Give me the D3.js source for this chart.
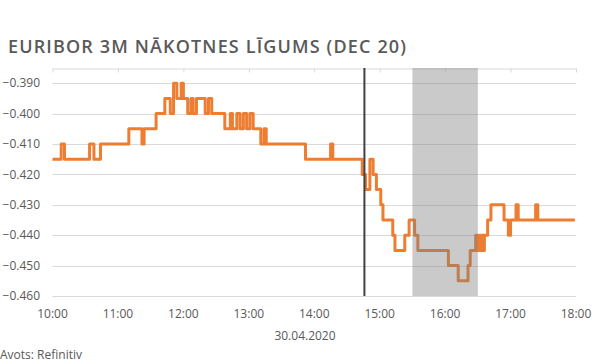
<!DOCTYPE html>
<html>
<head>
<meta charset="utf-8">
<script src="https://cdn.jsdelivr.net/npm/d3@7"></script>
<style>
  body { margin: 0; background: #fff; }
  svg { display: block; font-family: 'Open Sans', sans-serif; }
  .grid line { stroke: #d9d9d9; stroke-width: 1; }
  .tick-label { fill: #595959; font-size: 12px; }
</style>
</head>
<body>
<svg id="chart" width="600" height="363"></svg>
<script>
// futures price, step changes (time, value)
const times = ['10:00', '10:08', '10:11', '10:34', '10:38', '10:44', '11:10', '11:22', '11:24', '11:35',
  '11:43', '11:48', '11:51', '11:54', '11:58', '12:00', '12:04', '12:07', '12:09', '12:12',
  '12:20', '12:23', '12:26', '12:38', '12:43', '12:45', '12:49', '12:52', '12:55', '12:58',
  '13:01', '13:04', '13:11', '13:14', '13:16', '13:52', '14:15', '14:17', '14:44', '14:47',
  '14:51', '14:54', '14:57', '15:01', '15:03', '15:12', '15:14', '15:23', '15:27', '15:32',
  '15:35', '16:03', '16:12', '16:21', '16:23', '16:28', '16:29', '16:30', '16:31', '16:32',
  '16:33', '16:34', '16:35', '16:36', '16:39', '16:42', '16:54', '16:58', '17:00', '17:05',
  '17:07', '17:23', '17:25', '17:59']
const values = [-0.415, -0.410, -0.415, -0.410, -0.415, -0.410, -0.405, -0.410, -0.405, -0.400,
  -0.395, -0.400, -0.390, -0.395, -0.390, -0.395, -0.400, -0.395, -0.400, -0.395,
  -0.400, -0.395, -0.400, -0.405, -0.400, -0.405, -0.400, -0.405, -0.400, -0.405,
  -0.400, -0.405, -0.410, -0.405, -0.410, -0.415, -0.410, -0.415, -0.420, -0.425,
  -0.415, -0.420, -0.425, -0.430, -0.435, -0.440, -0.445, -0.440, -0.435, -0.440,
  -0.445, -0.450, -0.455, -0.450, -0.445, -0.440, -0.445, -0.440, -0.445, -0.440,
  -0.445, -0.440, -0.445, -0.440, -0.435, -0.430, -0.435, -0.440, -0.435, -0.430,
  -0.435, -0.430, -0.435, -0.435]
const yTicks = [-0.39, -0.40, -0.41, -0.42, -0.43, -0.44, -0.45, -0.46]
const xTicks = ['10:00', '11:00', '12:00', '13:00', '14:00', '15:00', '16:00', '17:00', '18:00']
const eventTime = '14:46'
const band = ['15:30', '16:30']

const title = 'EURIBOR 3M NĀKOTNES LĪGUMS (DEC 20)'
const dateLabel = '30.04.2020'
const source = 'Avots: Refinitiv'

const parse = d3.timeParse('%H:%M')
const data = times.map((t, i) => [parse(t), values[i]])

const svg = d3.select('#chart')
const x = d3.scaleTime().domain([parse('10:00'), parse('18:00')]).range([52.5, 576])
const y = d3.scaleLinear().domain([-0.46, -0.385]).range([296, 68])

svg.append('text')
  .attr('x', 8).attr('y', 53)
  .attr('fill', '#595959')
  .attr('font-size', 18).attr('font-weight', 600)
  .attr('textLength', 398).attr('lengthAdjust', 'spacing')
  .text(title)

// horizontal gridlines
svg.append('g').classed('grid', true)
  .selectAll('line').data(yTicks).join('line')
  .attr('x1', x.range()[0]).attr('x2', x.range()[1])
  .attr('y1', d => Math.round(y(d)) + 0.5).attr('y2', d => Math.round(y(d)) + 0.5)

// top frame line with hour ticks pointing down
const topAxis = d3.axisBottom(x)
  .tickValues(xTicks.map(parse))
  .tickSize(4).tickSizeOuter(0).tickFormat('')
const topG = svg.append('g').attr('transform', `translate(0,${Math.round(y(-0.385)) + 0.5})`).call(topAxis)
topG.select('.domain').attr('stroke', '#d9d9d9')
topG.selectAll('.tick line').attr('stroke', '#d9d9d9')

// y labels
svg.append('g').selectAll('text').data(yTicks).join('text')
  .classed('tick-label', true)
  .attr('x', 40).attr('y', d => y(d)).attr('dy', '0.35em')
  .attr('text-anchor', 'end')
  .text(d => d3.format('.3f')(d))

// x labels
svg.append('g').selectAll('text').data(xTicks).join('text')
  .classed('tick-label', true)
  .attr('x', d => x(parse(d))).attr('y', 318)
  .attr('text-anchor', 'middle')
  .text(d => d)

svg.append('text').classed('tick-label', true)
  .attr('x', 305).attr('y', 340).attr('text-anchor', 'middle')
  .text(dateLabel)

svg.append('text').classed('tick-label', true)
  .attr('x', 0).attr('y', 359)
  .text(source)

const line = d3.line()
  .x(d => x(d[0]))
  .y(d => y(d[1]))
  .curve(d3.curveStepAfter)

svg.append('path').datum(data)
  .attr('d', line)
  .attr('fill', 'none')
  .attr('stroke', '#ed7d31')
  .attr('stroke-width', 3)
  .attr('stroke-linejoin', 'round')

// shaded window over the line
svg.append('rect')
  .attr('x', x(parse(band[0]))).attr('width', x(parse(band[1])) - x(parse(band[0])))
  .attr('y', y(-0.385)).attr('height', y(-0.46) - y(-0.385))
  .attr('fill', '#808080').attr('opacity', 0.42)

svg.append('line')
  .attr('x1', x(parse(eventTime))).attr('x2', x(parse(eventTime)))
  .attr('y1', y(-0.385)).attr('y2', y(-0.46))
  .attr('stroke', '#404040').attr('stroke-width', 2)
</script>
</body>
</html>
